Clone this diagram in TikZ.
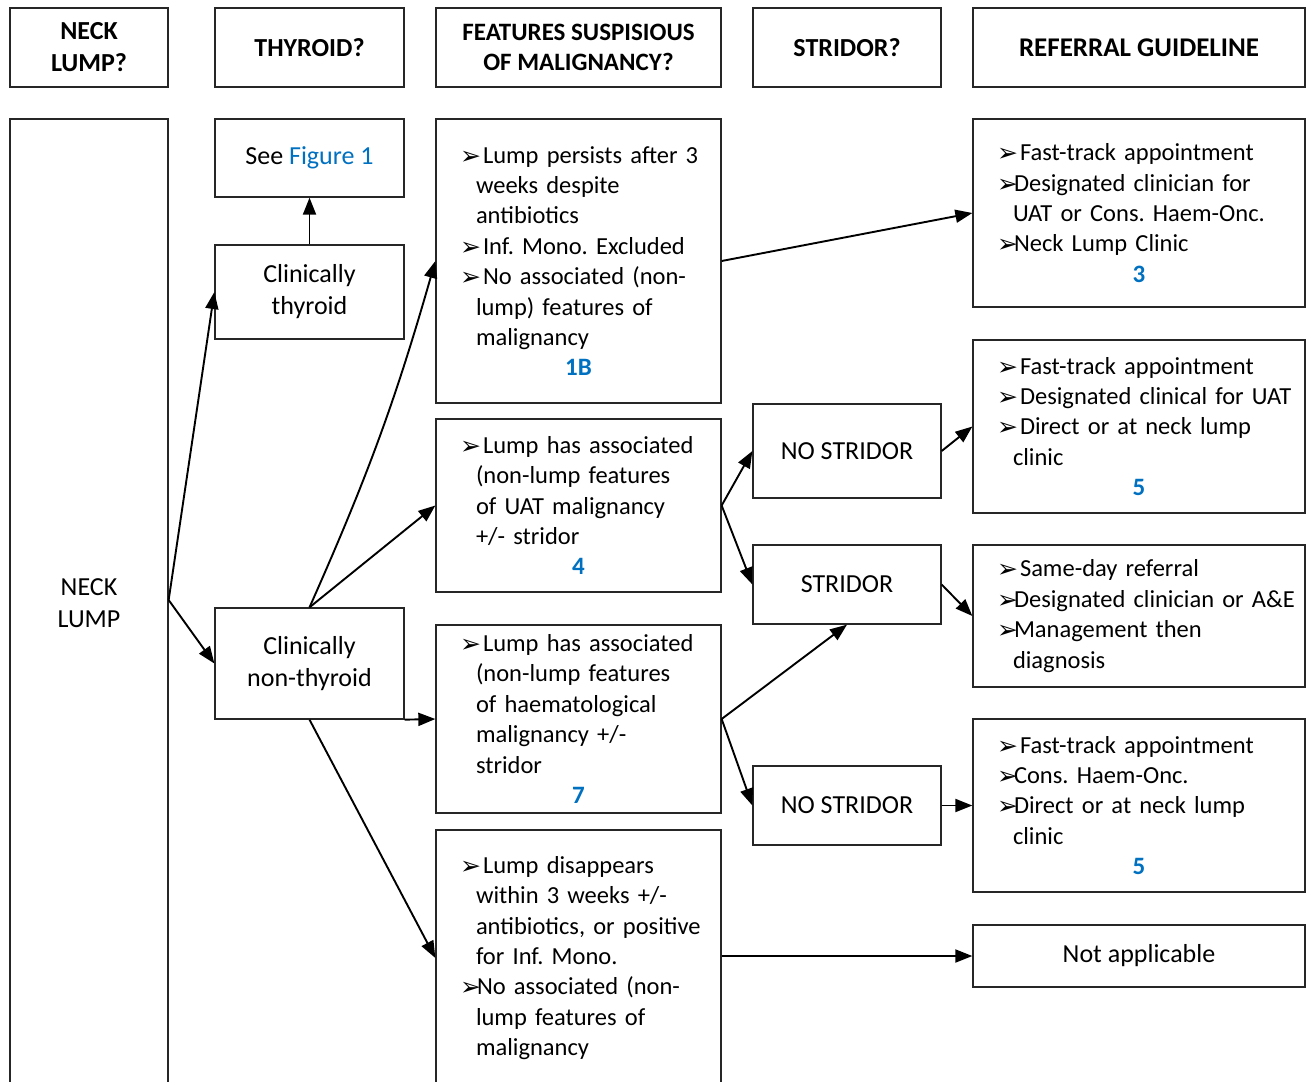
\documentclass[tikz,border=0pt]{standalone}
\usepackage{fontspec}
\setmainfont{Carlito}
\newfontfamily\dejavu{DejaVu Sans}
\usetikzlibrary{arrows.meta}
\definecolor{wblue}{RGB}{0,112,192}
\hbadness=10000 \hfuzz=200pt
\frenchspacing
\newcommand\bt{\makebox[17pt][l]{\dejavu\fontsize{25}{25}\selectfont\raisebox{-1pt}{➢}}}
\newcommand\ba[1]{\mbox{\bt\hspace*{6pt}#1}}
\newcommand\bb[1]{\mbox{\bt#1}}
\newcommand\cc[1]{\mbox{\hspace*{16pt}#1}}
\newcommand\num[1]{\hspace*{\fill}{\fontsize{25}{30}\selectfont\bfseries\color{wblue}#1}\hspace*{\fill}\null}
\tikzset{
  frame/.style={draw=black!85, line width=1.3pt, inner sep=0pt},
  hdr/.style={frame, font=\fontsize{26}{32}\selectfont\bfseries, align=center},
  plain/.style={frame, font=\fontsize{26}{32}\selectfont, align=center},
  blist/.style={frame, font=\fontsize{24.5}{30.4}\selectfont, align=left, inner xsep=24pt, inner ysep=0pt},
  arr/.style={line width=1.9pt, -{Triangle[length=17pt,width=13pt]}},
}
\begin{document}
\begin{tikzpicture}[x=1pt,y=-1pt]
\useasboundingbox (0,0) rectangle (1311,1081);
\clip (0,0) rectangle (1311,1081);
% headers
\node[hdr, minimum width=158pt, minimum height=79pt] (h1) at (89,47.5) {NECK\\LUMP?};
\node[hdr, minimum width=189pt, minimum height=79pt] (h2) at (309.5,47.5) {THYROID?};
\node[hdr, minimum width=285pt, minimum height=79pt, font=\fontsize{25}{30}\selectfont\bfseries] (h3) at (578.5,47.5) {FEATURES SUSPISIOUS\\OF MALIGNANCY?};
\node[hdr, minimum width=188pt, minimum height=79pt] (h4) at (847,47.5) {STRIDOR?};
\node[hdr, minimum width=332pt, minimum height=79pt, font=\fontsize{27}{32}\selectfont\bfseries] (h5) at (1139,47.5) {REFERRAL GUIDELINE};
% column 1
\node[plain, minimum width=158pt, minimum height=968pt] (neck) at (89,603) {NECK\\LUMP};
\coordinate (split) at (neck.east |- 0,600);
% column 2
\node[plain, minimum width=189pt, minimum height=78pt] (fig) at (309.5,158) {See {\color{wblue}Figure 1}};
\node[plain, minimum width=189pt, minimum height=94pt] (thy) at (309.5,292) {Clinically\\thyroid};
\node[plain, minimum width=189pt, minimum height=111pt] (nthy) at (309.5,663.5) {Clinically\\non-thyroid};
% column 3
\node[blist, text width=237pt, minimum height=284pt] (b1) at (578.5,261) {%
\ba{Lump persists after 3}\\\cc{weeks despite}\\\cc{antibiotics}\\\ba{Inf. Mono. Excluded}\\\ba{No associated (non-}\\\cc{lump) features of}\\\cc{malignancy}\\\num{1B}};
\node[blist, text width=237pt, minimum height=173pt] (b4) at (578.5,505.5) {%
\ba{Lump has associated}\\\cc{(non-lump features}\\\cc{of UAT malignancy}\\\cc{+/- stridor}\\\num{4}};
\node[blist, text width=237pt, minimum height=188pt] (b7) at (578.5,719) {%
\ba{Lump has associated}\\\cc{(non-lump features}\\\cc{of haematological}\\\cc{malignancy +/-}\\\cc{stridor}\\\num{7}};
\node[blist, text width=237pt, minimum height=256pt] (b0) at (578.5,958) {%
\ba{Lump disappears}\\\cc{within 3 weeks +/-}\\\cc{antibiotics, or positive}\\\cc{for Inf. Mono.}\\\bb{No associated (non-}\\\cc{lump features of}\\\cc{malignancy}};
% column 4
\node[plain, minimum width=188pt, minimum height=94pt] (ns1) at (847,451) {NO STRIDOR};
\node[plain, minimum width=188pt, minimum height=79pt] (st) at (847,584.5) {STRIDOR};
\node[plain, minimum width=188pt, minimum height=79pt] (ns2) at (847,805.5) {NO STRIDOR};
% column 5
\node[blist, text width=284pt, minimum height=188pt] (r3) at (1139,213) {%
\ba{Fast-track appointment}\\\bb{Designated clinician for}\\\cc{UAT or Cons. Haem-Onc.}\\\bb{Neck Lump Clinic}\\\num{3}};
\node[blist, text width=284pt, minimum height=173pt] (r5a) at (1139,426.5) {%
\ba{Fast-track appointment}\\\ba{Designated clinical for UAT}\\\ba{Direct or at neck lump}\\\cc{clinic}\\\num{5}};
\node[blist, text width=284pt, minimum height=142pt] (rsd) at (1139,616) {%
\ba{Same-day referral}\\\bb{Designated clinician or A\&E}\\\bb{Management then}\\\cc{diagnosis}};
\node[blist, text width=284pt, minimum height=173pt] (r5b) at (1139,805.5) {%
\ba{Fast-track appointment}\\\bb{Cons. Haem-Onc.}\\\bb{Direct or at neck lump}\\\cc{clinic}\\\num{5}};
\node[plain, minimum width=332pt, minimum height=62pt] (rna) at (1139,956) {Not applicable};
% connectors
\draw[arr] (split) -- (thy.west);
\draw[arr] (split) -- (nthy.west);
\draw[arr] (thy.north) -- (fig.south);
\draw[arr] (nthy.north) to[bend right=4] (b1.west);
\draw[arr] (nthy.north) -- (b4.west);
\draw[arr] (nthy.south east) -- (b7.west);
\draw[arr] (nthy.south) -- (b0.west);
\draw[arr] (b1.east) -- (r3.west);
\draw[arr] (b4.east) -- (ns1.west);
\draw[arr] (b4.east) -- (st.west);
\draw[arr] (b7.east) -- (st.south);
\draw[arr] (b7.east) -- (ns2.west);
\draw[arr] (ns1.east) -- (r5a.west);
\draw[arr] (st.east) -- (rsd.west);
\draw[arr] (ns2.east) -- (r5b.west);
\draw[arr] (b0.east |- rna.west) -- (rna.west);
\end{tikzpicture}
\end{document}
